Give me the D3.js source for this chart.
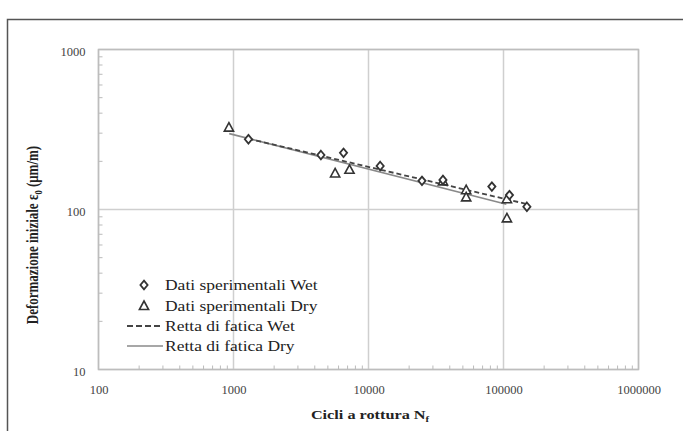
<!DOCTYPE html>
<html>
<head>
<meta charset="utf-8">
<script src="https://cdn.jsdelivr.net/npm/d3@7"></script>
<style>
  html, body { margin: 0; padding: 0; background: #fff; }
  svg { display: block; }
  svg text { font-family: "Liberation Serif", "Times New Roman", Times, "DejaVu Serif", serif !important; }
</style>
</head>
<body>
<script>
// ---- Data ----
const wetCycles = [1290, 4440, 6530, 12200, 24900, 35600, 82000, 110700, 149000];
const wetStrain = [275, 219, 226, 187, 151, 153, 139, 123, 104];
const dryCycles = [925, 5660, 7230, 35600, 52900, 52900, 106000, 106000];
const dryStrain = [325, 168, 177, 150, 132, 119, 116, 88];
const wetLineCycles = [1290, 150000];
const wetLineStrain = [277, 108];
const dryLineCycles = [930, 105000];
const dryLineStrain = [298, 108];
const xTicks = [100, 1000, 10000, 100000, 1000000];
const yTicks = [10, 100, 1000];
const legendLabels = ["Dati sperimentali Wet", "Dati sperimentali Dry", "Retta di fatica Wet", "Retta di fatica Dry"];

const FONT = "'Liberation Serif', 'Times New Roman', Times, serif";
const SX = 1.25; // horizontal stretch of the original picture's text
const W = 683, H = 431;
const svg = d3.select("body").append("svg").attr("width", W).attr("height", H);

// outer frame
svg.append("rect").attr("x", 7.5).attr("y", 19.5).attr("width", 700).attr("height", 500)
  .attr("fill", "none").attr("stroke", "#555").attr("stroke-width", 1.5);

const L = 98.5, R = 638.5, T = 49.5, B = 369.5;
const x = d3.scaleLog().domain([100, 1e6]).range([L, R]);
const y = d3.scaleLog().domain([10, 1000]).range([B, T]);

// minor tick values
const xMinor = [], yMinor = [];
for (let e = 2; e < 6; e++) for (let k = 2; k <= 9; k++) xMinor.push(k * Math.pow(10, e));
for (let e = 1; e < 3; e++) for (let k = 2; k <= 9; k++) yMinor.push(k * Math.pow(10, e));

// gridlines
const grid = svg.append("g").attr("stroke", "#cfcfcf").attr("stroke-width", 1.5);
xTicks.forEach(v => grid.append("line").attr("x1", x(v)).attr("x2", x(v)).attr("y1", T).attr("y2", B));
yTicks.forEach(v => grid.append("line").attr("x1", L).attr("x2", R).attr("y1", y(v)).attr("y2", y(v)));

// plot border
svg.append("rect").attr("x", L).attr("y", T).attr("width", R - L).attr("height", B - T)
  .attr("fill", "none").attr("stroke", "#bdbdbd").attr("stroke-width", 1.5);

// minor ticks (inside)
const minor = svg.append("g").attr("stroke", "#bbb").attr("stroke-width", 1);
xMinor.forEach(v => minor.append("line").attr("x1", x(v)).attr("x2", x(v)).attr("y1", B).attr("y2", B - 4));
yMinor.forEach(v => minor.append("line").attr("x1", L).attr("x2", L + 4).attr("y1", y(v)).attr("y2", y(v)));

// axes labels via d3 axes
const xAxis = d3.axisBottom(x).tickValues(xTicks).tickFormat(d3.format("d")).tickSize(0).tickPadding(16);
const gx = svg.append("g").attr("transform", `translate(0,${B})`).call(xAxis).attr("font-family", FONT);
gx.select(".domain").remove();
gx.selectAll("text").attr("font-size", 12.5).attr("fill", "#444");

const yAxis = d3.axisLeft(y).tickValues(yTicks).tickFormat(d3.format("d")).tickSize(0).tickPadding(13);
const gy = svg.append("g").attr("transform", `translate(${L},0)`).call(yAxis).attr("font-family", FONT);
gy.select(".domain").remove();
gy.selectAll("text").attr("font-size", 12.5).attr("fill", "#444").attr("dy", "0.45em");

// axis titles
const xt = svg.append("text").attr("transform", `translate(370,419) scale(${SX},1)`).attr("text-anchor", "middle")
  .attr("font-family", FONT).attr("font-size", 13).attr("font-weight", "bold").attr("fill", "#222");
xt.append("tspan").text("Cicli a rottura N");
xt.append("tspan").attr("font-size", 8.5).attr("dy", 3).text("f");

const yt = svg.append("text").attr("transform", `translate(38,235) scale(${SX},1) rotate(-90)`)
  .attr("text-anchor", "middle").attr("font-family", FONT).attr("font-size", 13)
  .attr("font-weight", "bold").attr("fill", "#222");
yt.append("tspan").text("Deformazione iniziale ε");
yt.append("tspan").attr("font-size", 8.5).attr("dy", 3).text("0");
yt.append("tspan").attr("dy", -3).text(" (μm/m)");

// fit lines
const line = d3.line().x(d => x(d[0])).y(d => y(d[1]));
svg.append("path").datum(dryLineCycles.map((c, i) => [c, dryLineStrain[i]]))
  .attr("d", line).attr("fill", "none").attr("stroke", "#8a8a8a").attr("stroke-width", 1.6);
svg.append("path").datum(wetLineCycles.map((c, i) => [c, wetLineStrain[i]]))
  .attr("d", line).attr("fill", "none").attr("stroke", "#444").attr("stroke-width", 1.8)
  .attr("stroke-dasharray", "5,3");

// markers
const diamond = (cx, cy) => `M${cx},${cy - 4.3}L${cx + 3.6},${cy}L${cx},${cy + 4.3}L${cx - 3.6},${cy}Z`;
const triangle = (cx, cy) => `M${cx},${cy - 5}L${cx + 4.6},${cy + 3.5}L${cx - 4.6},${cy + 3.5}Z`;

svg.append("g").selectAll("path").data(dryCycles.map((c, i) => [c, dryStrain[i]])).join("path")
  .attr("d", d => triangle(x(d[0]), y(d[1])))
  .attr("fill", "#fff").attr("stroke", "#333").attr("stroke-width", 1.6);
svg.append("g").selectAll("path").data(wetCycles.map((c, i) => [c, wetStrain[i]])).join("path")
  .attr("d", d => diamond(x(d[0]), y(d[1])))
  .attr("fill", "#fff").attr("stroke", "#333").attr("stroke-width", 1.8);

// legend
const lg = svg.append("g");
const rowsY = [285, 306, 326, 346];
lg.append("path").attr("d", diamond(144, rowsY[0])).attr("fill", "#fff").attr("stroke", "#333").attr("stroke-width", 1.8);
lg.append("path").attr("d", triangle(144, rowsY[1])).attr("fill", "#fff").attr("stroke", "#333").attr("stroke-width", 1.6);
lg.append("line").attr("x1", 127).attr("x2", 163).attr("y1", rowsY[2]).attr("y2", rowsY[2])
  .attr("stroke", "#444").attr("stroke-width", 1.8).attr("stroke-dasharray", "6,3");
lg.append("line").attr("x1", 127).attr("x2", 163).attr("y1", rowsY[3]).attr("y2", rowsY[3])
  .attr("stroke", "#8a8a8a").attr("stroke-width", 1.6);
lg.selectAll("text.lab").data(legendLabels).join("text").attr("class", "lab")
  .attr("transform", (d, i) => `translate(165,${rowsY[i] + 4.5}) scale(${SX},1)`)
  .attr("font-family", FONT).attr("font-size", 14).attr("fill", "#222").text(d => d);
</script>
</body>
</html>
